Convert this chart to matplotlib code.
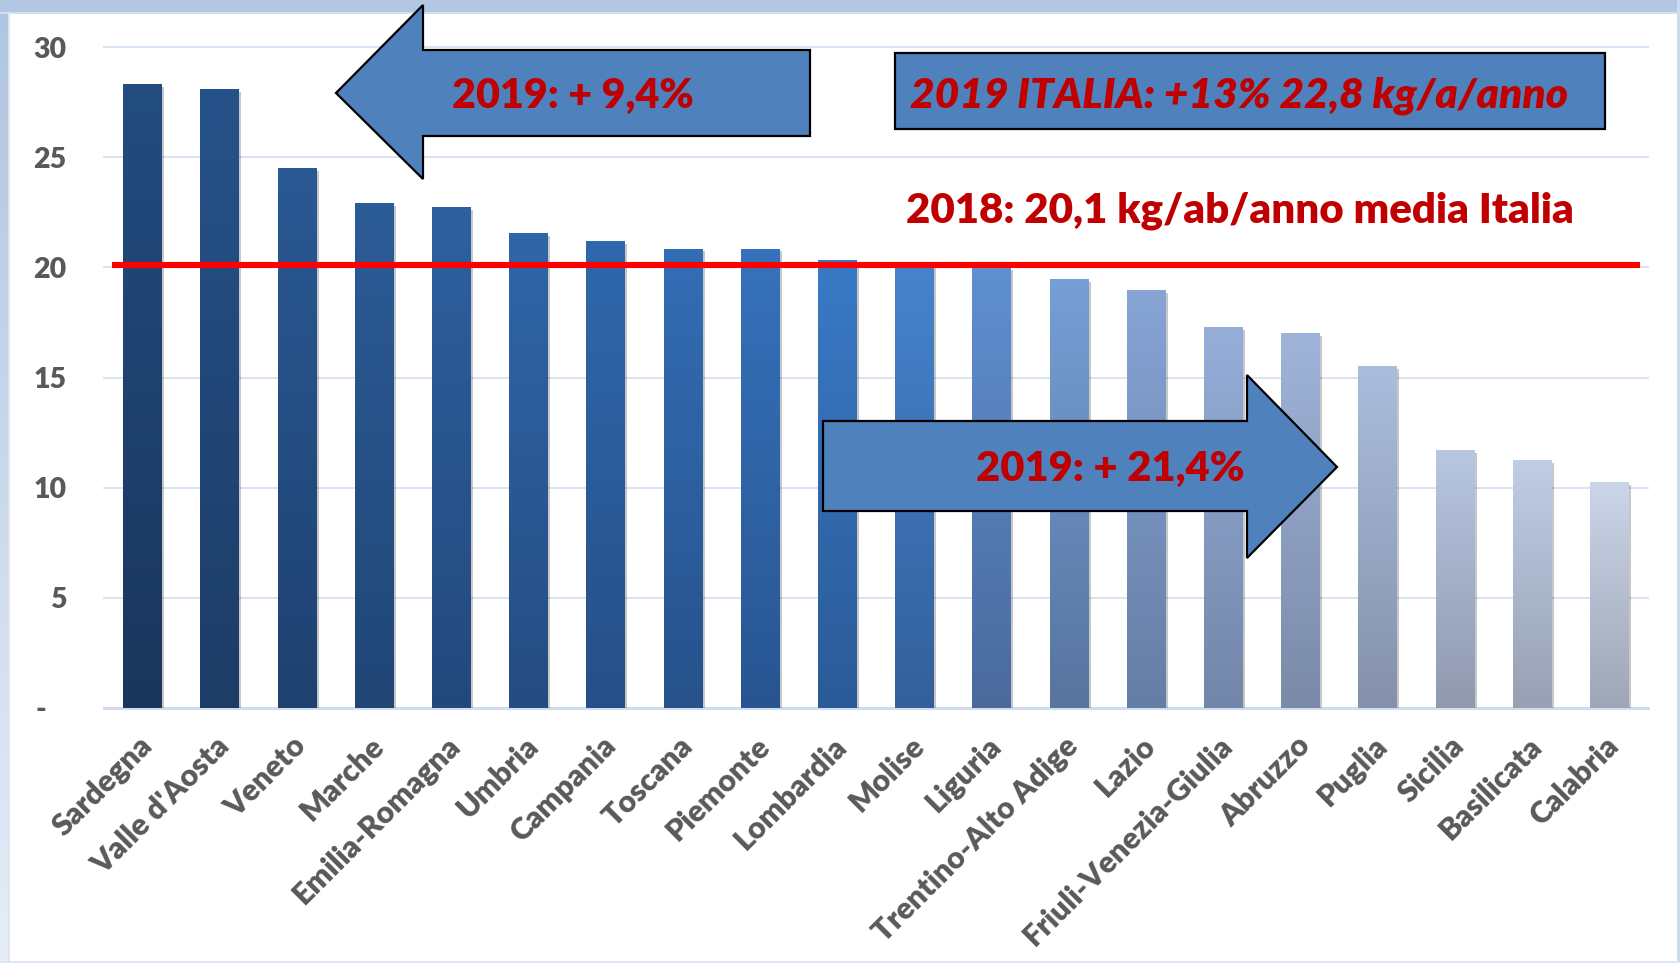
import numpy as np
import matplotlib
matplotlib.use("Agg")
import matplotlib.pyplot as plt
from matplotlib.patches import Polygon, Rectangle
from matplotlib.colors import to_rgb
from matplotlib.transforms import ScaledTranslation
import matplotlib.patheffects as pe

# ---------------- data ----------------
regions = ["Sardegna", "Valle d'Aosta", "Veneto", "Marche", "Emilia-Romagna",
           "Umbria", "Campania", "Toscana", "Piemonte", "Lombardia", "Molise",
           "Liguria", "Trentino-Alto Adige", "Lazio", "Friuli-Venezia-Giulia",
           "Abruzzo", "Puglia", "Sicilia", "Basilicata", "Calabria"]
values = [28.3, 28.1, 24.5, 22.9, 22.75, 21.55, 21.2, 20.85, 20.85, 20.35,
          20.1, 20.0, 19.45, 18.95, 17.3, 17.0, 15.5, 11.7, 11.25, 10.25]
avg_2018 = 20.1
yticks = [0, 5, 10, 15, 20, 25, 30]
ytick_labels = ["-   ", "5", "10", "15", "20", "25", "30"]
label_left_arrow = "2019: + 9,4%"
label_right_arrow = "2019: + 21,4%"
label_box = "2019 ITALIA: +13% 22,8 kg/a/anno"
label_avg = "2018: 20,1 kg/ab/anno media Italia"

# ---------------- styles ----------------
top_colors = ["#234c80", "#26528a", "#2a5994", "#2c5c98", "#2e60a0",
              "#3066a8", "#3068ad", "#336eb5", "#3672bb", "#3a7ac6",
              "#4683cc", "#5f8fd0", "#769fd5", "#86a4d6", "#96afd9",
              "#a0b4da", "#abbddd", "#b8c6e3", "#c0cde6", "#cbd5e9"]
bottom_colors = ["#1a365c", "#1d3c66", "#1f4170", "#214676", "#23497c",
                 "#254c82", "#264f88", "#27528c", "#285592", "#2b5a98",
                 "#33609c", "#4a6a9c", "#58749f", "#657ea5", "#7286a9",
                 "#7a8aa8", "#8591ab", "#9099ae", "#98a1b3", "#9ea7b7"]
FONT = "Lato"
WEIGHT = "heavy"
TXT_RED = "#c00000"
GRAY = "#595959"

W, H = 1680, 963
fig = plt.figure(figsize=(W / 100, H / 100), dpi=100)
fig.patch.set_facecolor("white")


def fx(px):
    return px / W


def fy(py):
    return 1 - py / H


# ---------------- frame decorations ----------------
fig.patches.append(Rectangle((0, fy(12)), 1, 12 / H, transform=fig.transFigure,
                             facecolor="#b2c8e2", edgecolor="none", zorder=0.5))
fig.patches.append(Rectangle((0, fy(14)), 1, 2 / H, transform=fig.transFigure,
                             facecolor="#d4e0ef", edgecolor="none", zorder=0.5))
fig.patches.append(Rectangle((fx(1677), 0), 3 / W, 1, transform=fig.transFigure,
                             facecolor="#cddbee", edgecolor="none", zorder=0.5))
fig.patches.append(Rectangle((0, 0), 1, 2 / H, transform=fig.transFigure,
                             facecolor="#dde7f3", edgecolor="none", zorder=0.5))
sax = fig.add_axes([0, 0, fx(8), fy(12)])
grad = np.linspace(0, 1, 256)[:, None]
c0, c1 = np.array(to_rgb("#b0c6e0")), np.array(to_rgb("#e6edf7"))
sax.imshow((c0[None, None, :] * (1 - grad[:, :, None]) + c1[None, None, :] * grad[:, :, None]),
           aspect="auto", extent=(0, 1, 0, 1))
sax.set_axis_off()
fig.patches.append(Rectangle((fx(8), 0), 2 / W, fy(12), transform=fig.transFigure,
                             facecolor="#dbe6f3", edgecolor="none", zorder=0.5))

# ---------------- main axes ----------------
ax = fig.add_axes([fx(104), fy(708), fx(1648) - fx(104), fy(47) - fy(708)])
x = np.arange(len(regions))
bars = ax.bar(x, values, width=0.505, color=bottom_colors, zorder=2,
              path_effects=[pe.SimplePatchShadow(offset=(1.5, -2.0), shadow_rgbFace="k", alpha=0.22),
                            pe.Normal()])
for b, ct, cb in zip(bars, top_colors, bottom_colors):
    t = np.linspace(0, 1, 128)[:, None, None]
    img = np.array(to_rgb(ct))[None, None, :] * (1 - t) + np.array(to_rgb(cb))[None, None, :] * t
    im = ax.imshow(img, aspect="auto", zorder=2.1, interpolation="bilinear",
                   extent=(b.get_x(), b.get_x() + b.get_width(), 0, b.get_height()))
    im.set_clip_path(b)

ax.hlines(avg_2018, -0.4, 19.4, color="#ff0000", lw=4.4, zorder=4)

ax.set_xlim(-0.5, len(regions) - 0.5)
ax.set_ylim(0, 30)
ax.set_yticks(yticks)
ax.set_yticklabels(ytick_labels, fontweight=WEIGHT, family=FONT, fontsize=20.5, color=GRAY)
for s in ax.spines.values():
    s.set_visible(False)
ax.grid(axis="y", color="#d6e2f2", lw=1.3, zorder=0)
for gl in ax.get_ygridlines():
    gl.set_clip_on(False)
ax.axhline(0, color="#d0ddef", lw=2.2, zorder=1.5, clip_on=False)
ax.set_axisbelow(True)
ax.tick_params(axis="both", length=0)
ax.tick_params(axis="y", pad=27)
ax.tick_params(axis="x", pad=24)
ax.set_facecolor("none")

renderer = fig.canvas.get_renderer()


def fit(txt, target_px):
    w = txt.get_window_extent(renderer).width
    txt.set_fontsize(txt.get_fontsize() * target_px / w)


# x tick label size: fit "Friuli-Venezia-Giulia" to ~283 px
tmp = fig.text(0, 0, "Friuli-Venezia-Giulia", fontsize=20, fontweight=WEIGHT, family=FONT)
fit(tmp, 283)
xfs = tmp.get_fontsize()
tmp.remove()

ax.set_xticks(x)
ax.set_xticklabels(regions, fontweight=WEIGHT, family=FONT, fontsize=xfs, color=GRAY,
                   rotation=45, ha="right", va="center", rotation_mode="anchor")
for lab in ax.get_xticklabels():
    lab.set_transform(lab.get_transform() + ScaledTranslation(0.05, 0, fig.dpi_scale_trans))

# ---------------- arrows and box ----------------
def poly(pts):
    p = Polygon([(fx(a), fy(b)) for a, b in pts], closed=True, transform=fig.transFigure,
                facecolor="#4f81bd", edgecolor="black", lw=1.6, zorder=2)
    fig.patches.append(p)


poly([(336, 93), (423, 5), (423, 50), (810, 50), (810, 136), (423, 136), (423, 179)])
poly([(823, 421), (1247, 421), (1247, 375), (1337, 467), (1247, 558), (1247, 511), (823, 511)])
fig.patches.append(Rectangle((fx(895), fy(129)), (1605 - 895) / W, (129 - 53) / H,
                             transform=fig.transFigure, facecolor="#4f81bd",
                             edgecolor="black", lw=1.6, zorder=2))

t1 = fig.text(fx(573), fy(108), label_left_arrow, ha="center", va="baseline", color=TXT_RED,
              fontweight=WEIGHT, fontsize=30, family=FONT, zorder=5)
fit(t1, 242)
t2 = fig.text(fx(1110), fy(481), label_right_arrow, ha="center", va="baseline", color=TXT_RED,
              fontweight=WEIGHT, fontsize=30, family=FONT, zorder=5)
fit(t2, 268)
t3 = fig.text(fx(1239), fy(107), label_box, ha="center", va="baseline", color=TXT_RED,
              fontweight=WEIGHT, fontstyle="italic", fontsize=30, family=FONT, zorder=5)
fit(t3, 656)
t4 = fig.text(fx(1240), fy(223), label_avg, ha="center", va="baseline", color=TXT_RED,
              fontweight=WEIGHT, fontsize=30, family=FONT, zorder=5)
fit(t4, 666)

fig.savefig("out.png", dpi=100, facecolor="white")
